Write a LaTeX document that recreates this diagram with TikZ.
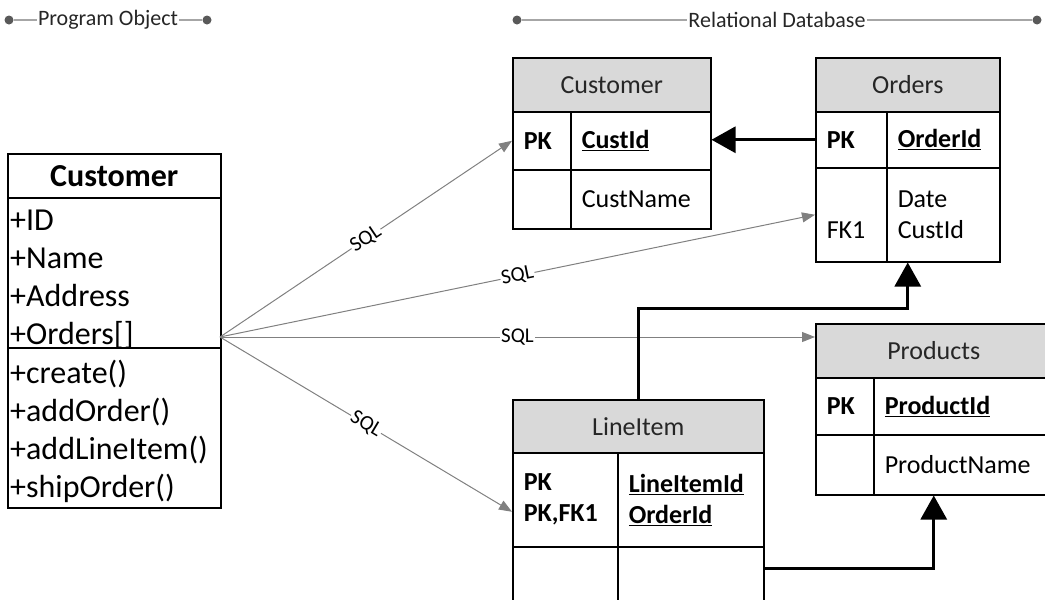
\documentclass[tikz,border=0pt]{standalone}
\usepackage{fontspec}
\setmainfont{Carlito}
\usetikzlibrary{arrows.meta,calc}

\newcommand\dbsize{\fontsize{26}{31}\selectfont}
\newcommand\clssize{\fontsize{32}{38}\selectfont}
\newcommand\lblsize{\fontsize{21}{25}\selectfont}
\newcommand\ttlsize{\fontsize{22}{26}\selectfont}

\begin{document}
\begin{tikzpicture}[x=1pt, y=-1pt,
  dot/.style={circle, fill=black!65, minimum size=9pt, inner sep=0pt},
  band/.style={draw=black!35, line width=1.5pt},
  title/.style={font=\ttlsize, text=black!85, inner sep=1pt},
  clshead/.style={draw, line width=1.5pt, anchor=north west, font=\clssize\bfseries, minimum width=213pt, minimum height=44pt, inner sep=0pt},
  cls/.style={draw, line width=1.5pt, anchor=north west, minimum width=213pt, inner sep=0pt},
  clstext/.style={anchor=base west, font=\clssize, text width=207pt, inner sep=0pt, align=left},
  hdr/.style={draw, line width=1.5pt, fill=black!15, anchor=north west, inner sep=0pt, font=\dbsize, text=black!85},
  cell/.style n args={2}{draw, line width=1.5pt, anchor=north west, inner xsep=11pt, inner ysep=0pt, align=left, font=\dbsize, text width=#1, minimum height=#2},
  sql/.style={draw=black!50, line width=1pt, -{Triangle[length=13pt,width=10pt]}},
  lbl/.style={font=\lblsize, fill=white, inner sep=1pt, sloped, midway},
  fk/.style={line width=3pt, -{Triangle[length=24pt,width=26pt]}}
]
\useasboundingbox (0,0) rectangle (1045,600);

% section titles
\node[dot] (poL) at (9,20) {};
\node[dot] (poR) at (207,20) {};
\node[title] (po) at (108,20) {Program Object};
\draw[band] (poL) -- (po) (po) -- (poR);

\node[dot] (rdL) at (517,20) {};
\node[dot] (rdR) at (1037,20) {};
\node[title] (rd) at (777,20) {Relational Database};
\draw[band] (rdL) -- (rd) (rd) -- (rdR);

% class
\node[clshead] (clsT) at (7,153) {Customer};
\node[cls, minimum height=150pt] (clsA) at (7,197) {};
\node[cls, minimum height=160pt] (clsM) at (7,347) {};
\node[clstext] (clsAt) at (10,230) {+ID\\+Name\\+Address\\+Orders[]};
\node[clstext] (clsMt) at (10,383) {+create()\\+addOrder()\\+addLineItem()\\+shipOrder()};

% tables
\node[hdr, minimum width=198pt, minimum height=54pt] (cdbH) at (512,57) {Customer};
\node[cell={36pt}{58pt}] (cdbK1) at (512,111) {\textbf{PK}};
\node[cell={118pt}{58pt}] (cdbF1) at (570,111) {\underline{\textbf{CustId}}};
\node[cell={36pt}{59pt}] (cdbK2) at (512,169) {};
\node[cell={118pt}{59pt}] (cdbF2) at (570,169) {CustName};

\node[hdr, minimum width=184pt, minimum height=54pt] (ordH) at (815,57) {Orders};
\node[cell={49pt}{56pt}] (ordK1) at (815,111) {\textbf{PK}};
\node[cell={91pt}{56pt}] (ordF1) at (886,111) {\underline{\textbf{OrderId}}};
\node[cell={49pt}{94pt}] (ordK2) at (815,167) {\vphantom{D}\\FK1};
\node[cell={91pt}{94pt}] (ordF2) at (886,167) {Date\\CustId};

\node[hdr, minimum width=236pt, minimum height=54pt] (prdH) at (815,323) {Products};
\node[cell={36pt}{57pt}] (prdK1) at (815,377) {\textbf{PK}};
\node[cell={156pt}{57pt}] (prdF1) at (873,377) {\underline{\textbf{ProductId}}};
\node[cell={36pt}{60pt}] (prdK2) at (815,434) {};
\node[cell={156pt}{60pt}] (prdF2) at (873,434) {ProductName};

\node[hdr, minimum width=251pt, minimum height=53pt] (liH) at (512,399) {LineItem};
\node[cell={83pt}{94pt}] (liK1) at (512,452) {\textbf{PK}\\\textbf{PK,FK1}};
\node[cell={124pt}{94pt}] (liF1) at (617,452) {\underline{\textbf{LineItemId}}\\\underline{\textbf{OrderId}}};
\node[cell={83pt}{60pt}] (liK2) at (512,546) {};
\node[cell={124pt}{60pt}] (liF2) at (617,546) {};

% mapping
\coordinate (src) at (220,337);
\draw[sql] (src) -- (cdbK1.west) node[lbl] {SQL};
\draw[sql] (src) -- (ordK2.west) node[lbl] {SQL};
\draw[sql] (src) -- (src -| prdH.west) node[lbl] {SQL};
\draw[sql] (src) -- ($(liK1.west)+(0,12)$) node[lbl] {SQL};

% foreign keys
\draw[fk] (ordK1.west) -- (ordK1.west -| cdbF1.east);
\draw[fk] (liH.north) -- ++(0,-91) -| (ordH.center |- ordK2.south);
\draw[fk] ($(liF2.north east)+(0,22)$) -| (prdH.center |- prdF2.south);

\end{tikzpicture}
\end{document}
